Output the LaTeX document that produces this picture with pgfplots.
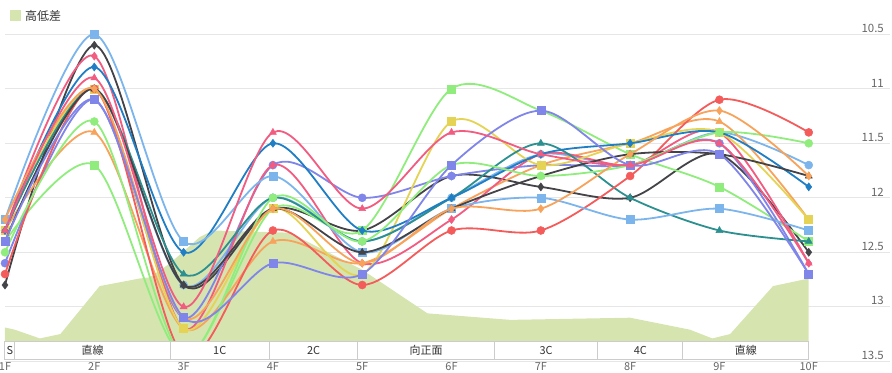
\documentclass[border=0pt]{standalone}
\usepackage{fontspec}
\setmainfont{Noto Sans CJK JP}
\usepackage{pgfplots}
\pgfplotsset{compat=1.18}
\definecolor{cLB}{HTML}{7CB5EC}
\definecolor{cDG}{HTML}{434348}
\definecolor{cGR}{HTML}{90ED7D}
\definecolor{cOR}{HTML}{F7A35C}
\definecolor{cPU}{HTML}{8085E9}
\definecolor{cPK}{HTML}{F15C80}
\definecolor{cYE}{HTML}{E4D354}
\definecolor{cTE}{HTML}{2B908F}
\definecolor{cRE}{HTML}{F45B5B}
\definecolor{cBL}{HTML}{1F7EC4}
\definecolor{elev}{RGB}{214,228,176}
\definecolor{gridc}{HTML}{E6E6E6}
\definecolor{tickc}{HTML}{666666}
\definecolor{bandc}{HTML}{CCCCCC}
\pgfplotsset{
  ser/.style n args={2}{color=#1, mark=#2, line width=1.8bp, smooth, tension=0.5,
    mark size=4bp, mark options={solid, fill=#1, draw=#1, line width=0.5bp}},
}
\begin{document}
\begin{tikzpicture}
\useasboundingbox (0bp,0bp) rectangle (892bp,373bp);
\begin{axis}[
  at={(5bp,11.7bp)}, anchor=south west,
  width=885bp, height=327bp, scale only axis,
  xmin=1, xmax=10.91, ymin=10.5, ymax=13.5, y dir=reverse,
  xtick={1,2,3,4,5,6,7,8,9,10},
  xticklabels={1F,2F,3F,4F,5F,6F,7F,8F,9F,10F},
  ytick={10.5,11,11.5,12,12.5,13,13.5},
  yticklabel pos=right,
  ymajorgrids, grid style={color=gridc, line width=1bp},
  axis line style={draw=none}, major tick length=0pt,
  /pgf/number format/assume math mode=true,
  xticklabel style={font=\fontsize{11}{12}\selectfont, text=tickc, anchor=north, inner sep=0pt, yshift=-0.5bp},
  yticklabel style={font=\fontsize{11.5}{12}\selectfont, text=tickc, anchor=south east, inner sep=0pt, xshift=-6bp, yshift=1.5bp},
  clip mode=individual,
]
% elevation area
\addplot[fill=elev, draw=none, forget plot] coordinates {
(1,13.48) (1,13.19) (1.11,13.21) (1.39,13.29) (1.62,13.25) (2.06,12.81) (2.51,12.74) (2.62,12.73)
(2.85,12.60) (3.18,12.36) (3.33,12.30) (4.19,12.32) (5.0,12.66) (5.73,13.06) (6.66,13.12)
(8.0,13.10) (8.67,13.21) (8.92,13.29) (9.12,13.25) (9.60,12.81) (10,12.74) (10,13.48)};
% series 0 LB circle
\addplot[ser={cLB}{*}] coordinates {(1,12.3)(2,11.0)(3,12.8)(4,12.0)(5,12.4)(6,12.0)(7,11.6)(8,11.7)(9,11.4)(10,11.7)};
% series 1 DG diamond
\addplot[ser={cDG}{diamond*}] coordinates {(1,12.8)(2,10.6)(3,12.8)(4,12.1)(5,12.3)(6,11.8)(7,11.9)(8,12.0)(9,11.6)(10,12.5)};
% series 2 GR square
\addplot[ser={cGR}{square*}] coordinates {(1,12.4)(2,11.7)(3,13.45)(4,12.1)(5,12.3)(6,11.0)(7,11.2)(8,11.6)(9,11.9)(10,12.4)};
% series 3 OR triangle
\addplot[ser={cOR}{triangle*}] coordinates {(1,12.3)(2,11.4)(3,13.2)(4,12.4)(5,12.6)(6,12.1)(7,11.7)(8,11.5)(9,11.3)(10,12.2)};
% series 4 PU circle
\addplot[ser={cPU}{*}] coordinates {(1,12.6)(2,11.1)(3,13.1)(4,11.7)(5,12.0)(6,11.8)(7,11.7)(8,11.7)(9,11.5)(10,12.7)};
% series 5 PK diamond
\addplot[ser={cPK}{diamond*}] coordinates {(1,12.3)(2,10.7)(3,13.2)(4,11.7)(5,12.6)(6,12.2)(7,11.6)(8,11.7)(9,11.4)(10,12.6)};
% series 6 YE square
\addplot[ser={cYE}{square*}] coordinates {(1,12.3)(2,11.0)(3,13.2)(4,12.1)(5,12.7)(6,11.3)(7,11.7)(8,11.5)(9,11.4)(10,12.2)};
% series 7 TE triangle
\addplot[ser={cTE}{triangle*}] coordinates {(1,12.3)(2,11.0)(3,12.7)(4,12.0)(5,12.4)(6,12.0)(7,11.5)(8,12.0)(9,12.3)(10,12.4)};
% series 8 RE circle
\addplot[ser={cRE}{*}] coordinates {(1,12.7)(2,11.0)(3,13.45)(4,12.3)(5,12.8)(6,12.3)(7,12.3)(8,11.8)(9,11.1)(10,11.4)};
% series 9 BL diamond
\addplot[ser={cBL}{diamond*}] coordinates {(1,12.3)(2,10.8)(3,12.5)(4,11.5)(5,12.3)(6,12.0)(7,11.6)(8,11.5)(9,11.4)(10,11.9)};
% series 10 LB square
\addplot[ser={cLB}{square*}] coordinates {(1,12.2)(2,10.5)(3,12.4)(4,11.8)(5,12.5)(6,12.1)(7,12.0)(8,12.2)(9,12.1)(10,12.3)};
% series 11 DG triangle
\addplot[ser={cDG}{triangle*}] coordinates {(1,12.4)(2,11.0)(3,12.8)(4,12.1)(5,12.5)(6,12.1)(7,11.8)(8,11.6)(9,11.6)(10,11.8)};
% series 12 GR circle
\addplot[ser={cGR}{*}] coordinates {(1,12.5)(2,11.3)(3,13.45)(4,12.0)(5,12.4)(6,11.7)(7,11.8)(8,11.7)(9,11.4)(10,11.5)};
% series 13 OR diamond
\addplot[ser={cOR}{diamond*}] coordinates {(1,12.2)(2,11.0)(3,13.1)(4,12.1)(5,12.6)(6,12.1)(7,12.1)(8,11.6)(9,11.2)(10,11.8)};
% series 14 PU square
\addplot[ser={cPU}{square*}] coordinates {(1,12.4)(2,11.1)(3,13.1)(4,12.6)(5,12.7)(6,11.7)(7,11.2)(8,11.7)(9,11.6)(10,12.7)};
% series 15 PK triangle
\addplot[ser={cPK}{triangle*}] coordinates {(1,12.3)(2,10.9)(3,13.0)(4,11.4)(5,12.1)(6,11.4)(7,11.6)(8,11.7)(9,11.5)(10,12.6)};
% cover below band (inside the axis only)
\fill[white] (axis cs:0.9,13.48) rectangle (axis cs:10.02,13.5);
% course section band
\begin{scope}[every node/.style={font=\fontsize{11}{12}\selectfont, text=black!80}]
\draw[bandc, fill=white, line width=1bp] (axis cs:1,13.32) rectangle (axis cs:1.11,13.48);
\draw[bandc, fill=white, line width=1bp] (axis cs:1.11,13.32) rectangle (axis cs:2.85,13.48);
\draw[bandc, fill=white, line width=1bp] (axis cs:2.85,13.32) rectangle (axis cs:3.96,13.48);
\draw[bandc, fill=white, line width=1bp] (axis cs:3.96,13.32) rectangle (axis cs:4.95,13.48);
\draw[bandc, fill=white, line width=1bp] (axis cs:4.95,13.32) rectangle (axis cs:6.48,13.48);
\draw[bandc, fill=white, line width=1bp] (axis cs:6.48,13.32) rectangle (axis cs:7.64,13.48);
\draw[bandc, fill=white, line width=1bp] (axis cs:7.64,13.32) rectangle (axis cs:8.59,13.48);
\draw[bandc, fill=white, line width=1bp] (axis cs:8.59,13.32) rectangle (axis cs:10,13.48);
\node at (axis cs:1.055,13.40) {S};
\node at (axis cs:1.98,13.40) {直線};
\node at (axis cs:3.405,13.40) {1C};
\node at (axis cs:4.455,13.40) {2C};
\node at (axis cs:5.715,13.40) {向正面};
\node at (axis cs:7.06,13.40) {3C};
\node at (axis cs:8.115,13.40) {4C};
\node at (axis cs:9.295,13.40) {直線};
\end{scope}
\end{axis}
% legend
\fill[elev] (10bp,352bp) rectangle (21bp,363bp);
\node[anchor=west, inner sep=0pt, font=\fontsize{12}{13}\selectfont, text=black!80] at (25bp,357.5bp) {高低差};
\end{tikzpicture}
\end{document}
